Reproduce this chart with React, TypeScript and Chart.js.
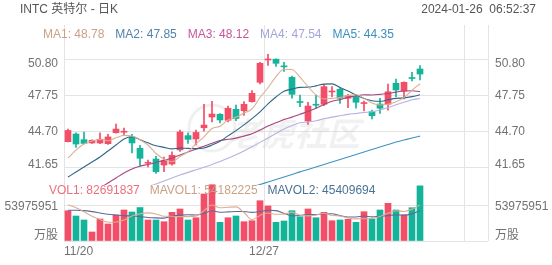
import React, { useEffect, useRef } from 'react';
import { Chart, registerables } from 'chart.js';

Chart.register(...registerables);

// ---------- data ----------
const dates = ['11/20','11/21','11/22','11/24','11/27','11/28','11/29','11/30','12/01','12/04','12/05','12/06','12/07','12/08','12/11','12/12','12/13','12/14','12/15','12/18','12/19','12/20','12/21','12/22','12/26','12/27','12/28','12/29','01/02','01/03','01/04','01/05','01/08','01/09','01/10','01/11','01/12','01/16','01/17','01/18','01/19','01/22','01/23','01/24','01/25'];
const emptySlots = 8;

const openP = [43.88,44.53,44.05,43.77,43.77,43.71,44.64,44.68,44.28,43.32,42.05,42.41,41.90,41.99,43.18,44.39,44.11,45.06,45.97,46.20,45.69,46.62,46.50,47.27,48.91,50.80,50.87,50.28,49.33,47.25,45.63,47.01,47.05,48.09,48.32,47.56,47.69,47.11,46.42,47.07,47.05,48.83,48.17,49.27,50.04];
const closeP = [44.83,43.68,43.73,44.00,44.09,44.28,44.95,44.72,43.77,42.47,42.09,41.34,42.29,42.73,44.70,44.08,44.66,45.29,46.22,45.72,46.71,45.84,47.05,47.98,50.52,50.86,50.52,50.22,47.89,47.20,46.90,46.97,48.54,48.13,47.56,47.78,47.22,47.15,46.08,46.71,48.11,48.26,48.91,49.23,49.61];
const highP = [44.95,44.62,44.70,44.03,44.62,44.51,45.38,45.04,44.51,43.56,42.33,42.64,42.58,43.01,44.87,44.62,44.87,47.05,47.30,46.27,46.90,46.99,47.27,48.20,50.61,51.27,50.89,50.61,49.44,47.83,47.22,47.83,48.74,48.54,48.45,47.89,47.89,47.33,46.56,47.56,48.77,49.19,48.96,49.76,50.32];
const lowP = [43.85,43.39,43.68,43.74,43.72,43.65,44.60,44.42,42.92,41.82,41.74,41.20,41.34,41.90,43.05,43.74,43.60,44.78,45.55,45.46,45.55,45.67,46.11,47.22,48.77,50.35,50.25,49.84,47.56,46.84,45.35,46.71,46.93,47.69,47.13,46.76,46.71,46.48,45.80,46.28,46.56,47.69,47.50,49.02,49.11];

const ma1 = [42.50,43.17,43.68,43.94,44.07,43.96,44.21,44.41,44.36,44.04,43.60,42.88,42.39,42.18,42.63,43.03,43.69,44.29,44.99,45.19,45.72,45.96,46.31,46.66,47.62,48.45,49.39,50.02,50.00,49.34,48.55,47.84,47.50,47.55,47.62,47.80,47.85,47.57,47.16,46.99,47.05,47.26,47.61,48.24,48.78];
const ma2 = [40.88,41.31,41.73,42.16,42.58,43.09,43.60,44.11,44.30,44.05,43.78,43.54,43.40,43.27,43.33,43.31,43.29,43.34,43.59,43.91,44.37,44.82,45.30,45.83,46.41,47.09,47.67,48.16,48.33,48.48,48.50,48.61,48.76,48.78,48.48,48.17,47.84,47.53,47.35,47.30,47.43,47.55,47.59,47.70,47.85];
const ma3 = [38.26,38.68,39.11,39.53,39.96,40.38,40.80,41.23,41.57,41.80,41.95,42.12,42.30,42.50,42.75,43.00,43.25,43.50,43.75,43.98,44.08,44.18,44.35,44.55,44.87,45.20,45.48,45.75,45.96,46.20,46.44,46.72,47.03,47.30,47.44,47.63,47.76,47.85,47.84,47.89,47.96,48.08,48.18,48.20,48.12];
const ma4 = [37.55,37.80,38.05,38.30,38.55,38.80,39.05,39.30,39.55,39.80,40.05,40.30,40.55,40.80,41.05,41.28,41.50,41.72,41.95,42.20,42.48,42.78,43.10,43.45,43.82,44.20,44.58,44.95,45.25,45.48,45.55,45.66,45.82,45.96,46.07,46.19,46.27,46.35,46.42,46.57,46.77,47.00,47.22,47.43,47.54];
const ma5 = [null,null,null,null,null,null,null,null,null,null,null,null,null,null,null,null,null,null,null,null,39.45,39.65,39.85,40.05,40.25,40.46,40.67,40.89,41.10,41.32,41.52,41.73,41.95,42.16,42.37,42.58,42.79,43.01,43.22,43.43,43.64,43.85,44.02,44.19,44.35];

const volume = [45400000,37500000,31500000,13500000,33000000,25500000,39000000,46500000,43500000,50200000,31500000,31500000,28900000,43000000,48000000,31500000,34900000,70500000,84400000,28000000,34900000,37500000,28900000,30400000,60400000,52500000,28000000,30000000,45400000,36400000,48000000,34900000,43000000,30400000,31500000,32500000,28000000,43900000,33000000,46500000,56500000,46500000,39000000,49900000,82691837];
const mavol1 = [54000000,50000000,44000000,37000000,32200000,28200000,28500000,31500000,37500000,40900000,42100000,40600000,37100000,37000000,36600000,36600000,37300000,45600000,53900000,49900000,50500000,51100000,42700000,31900000,38400000,41900000,40000000,40300000,43300000,38500000,37600000,38900000,41500000,38500000,37600000,34500000,33100000,33300000,33800000,36800000,41600000,45300000,44300000,47700000,54182225];
const mavol2 = [46000000,46000000,45500000,44000000,42000000,40000000,39000000,38000000,37500000,36600000,35200000,34600000,34300000,37300000,38800000,39400000,39000000,41400000,45400000,43200000,43600000,44200000,44200000,42900000,44100000,46200000,45600000,41500000,37600000,38400000,39800000,39500000,40900000,40900000,38000000,36000000,36000000,37400000,36200000,37200000,38000000,39200000,38800000,40700000,45409694];

const priceTicks = [50.80, 47.75, 44.70, 41.65];
const volTick = 53975951;
const xTickIdx = [0, 25];
const xTickText = ['11/20', '12/27'];

const maNames = ['MA1', 'MA2', 'MA3', 'MA4', 'MA5'];
const maLast = ['48.78', '47.85', '48.12', '47.54', '44.35'];
const volNames = ['VOL1', 'MAVOL1', 'MAVOL2'];
const volLast = ['82691837', '54182225', '45409694'];

const title = 'INTC 英特尔 - 日K';
const stamp = '2024-01-26  06:52:37';

// ---------- style ----------
const RED = '#f24e67';
const GREEN = '#14b49b';
const maLineColors = ['#dcae92', '#2f6687', '#a9447f', '#b3b3e3', '#3f93c4'];
const maTextColors = ['#caa186', '#4f84ad', '#c4579b', '#a4a4da', '#3a8fbf'];
const volTextColors = ['#ec6f7d', '#caa186', '#4a7394'];
const FONT = '12px "Liberation Sans", Arial, "Noto Sans CJK SC", sans-serif';
const GRID = '#e4e4e4';
const LABEL = '#727272';

const PRICE_MAX = 53.7653;
const PRICE_MIN = 35.4651;
const VOL_MAX = 323855706;
const PRICE_CLIP = { left: 0, top: 0, right: 0, bottom: -56 };

const textPlugin = {
  id: 'texts',
  beforeDatasetsDraw(chart: any) {
    const ctx = chart.ctx;
    ctx.save();
    ctx.strokeStyle = 'rgba(200,200,200,0.28)';
    ctx.lineWidth = 3;
    ctx.beginPath();
    ctx.arc(212, 128, 23, 0, Math.PI * 2);
    ctx.stroke();
    ctx.font = 'italic bold 33px "Noto Sans CJK SC", sans-serif';
    ctx.fillStyle = 'rgba(190,190,190,0.22)';
    ctx.textBaseline = 'middle';
    ctx.textAlign = 'left';
    ctx.fillText('老虎社区', 228, 133);
    ctx.restore();
  },
  afterDraw(chart: any) {
    const ctx = chart.ctx;
    const ys = chart.scales.y;
    const yv = chart.scales.yV;
    const xs = chart.scales.x;
    const area = chart.chartArea;
    ctx.save();
    ctx.font = FONT;
    ctx.textBaseline = 'middle';

    ctx.fillStyle = '#555555';
    ctx.textAlign = 'left';
    ctx.fillText(title, 20, 10);
    ctx.textAlign = 'right';
    ctx.fillText(stamp, 536, 10);

    ctx.textAlign = 'left';
    let px = 43;
    maNames.forEach((n, i) => {
      const t = n + ': ' + maLast[i];
      ctx.fillStyle = maTextColors[i];
      ctx.fillText(t, px, 35);
      px += ctx.measureText(t).width + 11;
    });

    px = 49;
    volNames.forEach((n, i) => {
      const t = n + ': ' + volLast[i];
      ctx.fillStyle = volTextColors[i];
      ctx.fillText(t, px, 191);
      px += ctx.measureText(t).width + 10;
    });

    ctx.fillStyle = LABEL;
    const shift = [4, 0, 0, -3];
    priceTicks.forEach((v, i) => {
      const py = ys.getPixelForValue(v) + shift[i];
      ctx.textAlign = 'right';
      ctx.fillText(v.toFixed(2), 58, py);
      ctx.textAlign = 'left';
      ctx.fillText(v.toFixed(2), 495, py);
    });
    const vy = yv.getPixelForValue(volTick) + 2;
    ctx.textAlign = 'right';
    ctx.fillText(String(volTick), 58, vy);
    ctx.fillText('万股', 58, yv.getPixelForValue(0) - 5);
    ctx.textAlign = 'left';
    ctx.fillText(String(volTick), 495, vy);
    ctx.fillText('万股', 495, yv.getPixelForValue(0) - 5);

    const half = (xs.getPixelForValue(1) - xs.getPixelForValue(0)) / 2;
    xTickIdx.forEach((idx, i) => {
      const t = xTickText[i];
      const w = ctx.measureText(t).width;
      const gx = xs.getPixelForValue(idx) - half;
      const left = Math.max(area.left, gx - w / 2);
      ctx.fillText(t, left, 252);
    });
    ctx.restore();
  },
};

export default function App() {
  const ref = useRef<HTMLCanvasElement | null>(null);

  useEffect(() => {
    if (!ref.current) return;
    const labels = [...dates, ...Array(emptySlots).fill('')];
    const colors = closeP.map((c, i) => (c >= openP[i] ? RED : GREEN));
    const body = openP.map((o, i) => [o, closeP[i]]);
    const wick = lowP.map((l, i) => [l, highP[i]]);

    const line = (data: any[], color: string, axis: string, clip: any) => ({
      type: 'line' as const,
      data,
      borderColor: color,
      borderWidth: 1.1,
      pointRadius: 0,
      cubicInterpolationMode: 'monotone' as const,
      yAxisID: axis,
      order: 0,
      clip,
    });

    const chart = new Chart(ref.current, {
      type: 'bar',
      data: {
        labels,
        datasets: [
          line(ma1, maLineColors[0], 'y', PRICE_CLIP),
          line(ma2, maLineColors[1], 'y', PRICE_CLIP),
          line(ma3, maLineColors[2], 'y', PRICE_CLIP),
          line(ma4, maLineColors[3], 'y', PRICE_CLIP),
          line(ma5, maLineColors[4], 'y', PRICE_CLIP),
          line(mavol1, maLineColors[0], 'yV', 0),
          line(mavol2, '#5d6a9a', 'yV', 0),
          {
            type: 'bar',
            data: body as any,
            backgroundColor: colors,
            barThickness: 6,
            minBarLength: 1,
            grouped: false,
            yAxisID: 'y',
            order: 1,
            clip: PRICE_CLIP,
          } as any,
          {
            type: 'bar',
            data: wick as any,
            backgroundColor: colors,
            barThickness: 1,
            grouped: false,
            yAxisID: 'y',
            order: 2,
            clip: PRICE_CLIP,
          } as any,
          {
            type: 'bar',
            data: volume,
            backgroundColor: colors,
            barThickness: 6,
            grouped: false,
            yAxisID: 'yV',
            order: 3,
          } as any,
        ],
      },
      options: {
        responsive: false,
        animation: false,
        devicePixelRatio: 1,
        layout: { padding: { left: 64, right: 64, top: 25, bottom: 24 } },
        plugins: { legend: { display: false }, tooltip: { enabled: false } },
        events: [],
        scales: {
          x: {
            type: 'category',
            offset: true,
            grid: {
              offset: true,
              drawTicks: false,
              lineWidth: 1,
              color: (c: any) => (c.index === undefined || c.index === 0 || c.index === 25 || c.index === 50 ? GRID : 'rgba(0,0,0,0)'),
            },
            border: { display: false },
            ticks: { display: false, autoSkip: false },
            afterFit: (s: any) => { s.height = 0; },
          },
          y: {
            type: 'linear',
            position: 'left',
            min: PRICE_MIN,
            max: PRICE_MAX,
            beginAtZero: false,
            bounds: 'data',
            afterBuildTicks: (s: any) => { s.ticks = priceTicks.map((v) => ({ value: v })); },
            grid: { color: GRID, drawTicks: false, lineWidth: 1 },
            border: { display: false },
            ticks: { display: false },
            afterFit: (s: any) => { s.width = 0; },
          },
          yV: {
            type: 'linear',
            position: 'right',
            min: 0,
            max: VOL_MAX,
            bounds: 'data',
            afterBuildTicks: (s: any) => { s.ticks = [{ value: 0 }, { value: volTick }]; },
            grid: { color: GRID, drawTicks: false, lineWidth: 1 },
            border: { display: false },
            ticks: { display: false },
            afterFit: (s: any) => { s.width = 0; },
          },
        },
      } as any,
      plugins: [textPlugin],
    });
    return () => chart.destroy();
  }, []);

  return (
    <div style={{ position: 'absolute', left: 0, top: 0, width: 552, height: 265, background: '#ffffff' }}>
      <canvas ref={ref} width={552} height={265} style={{ display: 'block' }} />
    </div>
  );
}
